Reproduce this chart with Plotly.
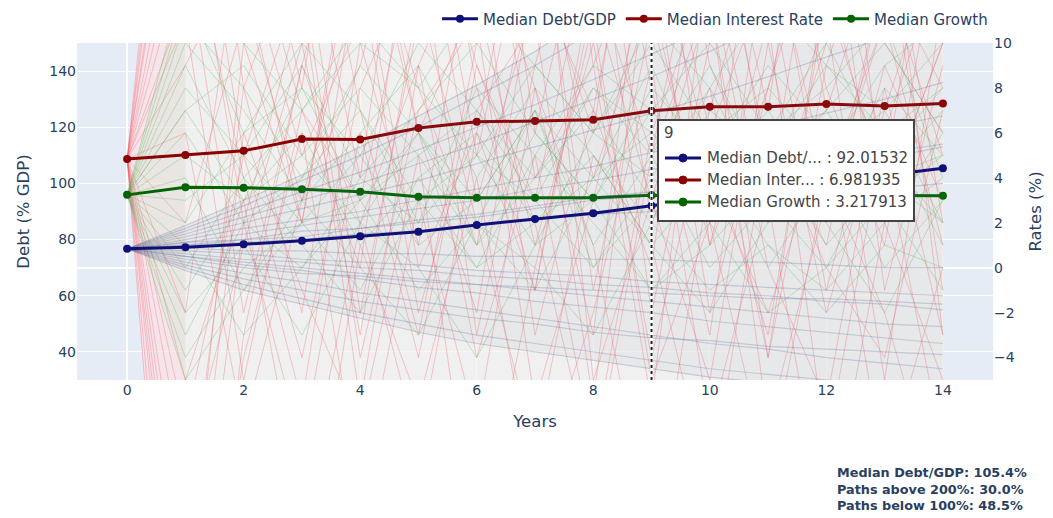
import plotly.graph_objects as go

# ---- data -------------------------------------------------------------
years = list(range(15))

median_debt = [76.7, 77.3, 78.3, 79.6, 81.2, 82.8, 85.2, 87.3, 89.4, 92.01532,
               95.0, 97.8, 100.3, 102.9, 105.4]
median_rate = [4.84, 5.02, 5.20, 5.73, 5.71, 6.22, 6.49, 6.53, 6.58, 6.981935,
               7.16, 7.16, 7.29, 7.20, 7.31]
median_growth = [3.24, 3.58, 3.56, 3.49, 3.38, 3.16, 3.11, 3.11, 3.11, 3.217913,
                 3.20, 3.22, 3.19, 3.21, 3.20]

# simulated debt/GDP paths (% of GDP)
debt_paths = [
    [76.7, 72, 68, 65, 61, 58, 55, 52, 49, 46, 43, 41, 38, 36, 34],
    [76.7, 74, 71, 69, 66, 63, 61, 58, 56, 54, 51, 49, 47, 45, 43],
    [76.7, 70, 64, 59, 54, 50, 46, 43, 40, 37, 34, 32, 30, 28, 26],
    [76.7, 75, 73, 72, 70, 69, 67, 66, 64, 63, 61, 60, 58, 57, 55],
    [76.7, 77, 76, 76, 75, 75, 74, 74, 73, 73, 72, 72, 71, 70, 70],
    [76.7, 78, 79, 80, 82, 83, 85, 87, 89, 90, 92, 94, 96, 98, 100],
    [76.7, 79, 82, 85, 88, 91, 94, 98, 101, 105, 108, 112, 116, 120, 124],
    [76.7, 81, 86, 91, 96, 101, 107, 113, 119, 125, 131, 138, 145, 152, 160],
    [76.7, 83, 90, 97, 104, 112, 120, 128, 137, 146, 156, 166, 177, 188, 200],
    [76.7, 85, 94, 103, 113, 124, 135, 147, 160, 173, 187, 202, 218, 235, 252],
    [76.7, 80, 84, 87, 90, 94, 98, 102, 106, 111, 115, 120, 125, 130, 136],
    [76.7, 73, 70, 68, 67, 65, 64, 63, 62, 61, 60, 59, 59, 58, 57],
    [76.7, 71, 66, 62, 58, 55, 52, 50, 47, 45, 44, 42, 41, 40, 39],
    [76.7, 79, 80, 83, 84, 87, 89, 92, 95, 97, 101, 104, 107, 111, 114],
    [76.7, 82, 88, 94, 100, 107, 114, 122, 130, 138, 147, 157, 167, 178, 189],
    [76.7, 76, 75, 73, 72, 71, 69, 68, 67, 65, 64, 63, 62, 61, 60],
    [76.7, 84, 92, 101, 110, 120, 131, 142, 154, 167, 181, 196, 212, 229, 247],
    [76.7, 74, 72, 70, 68, 66, 64, 62, 60, 58, 56, 54, 52, 50, 49],
    [76.7, 78, 80, 81, 84, 86, 88, 91, 94, 96, 99, 103, 106, 109, 113],
    [76.7, 69, 62, 57, 52, 47, 43, 40, 37, 34, 31, 29, 27, 25, 23],
]

# simulated interest-rate paths (%)
rate_paths = [
    [4.84, 18, 2, 12, -6, 9, 15, -3, 7, 20, 1, 11, -8, 6, 14],
    [4.84, -12, 8, -2, 14, 0, 6, 19, -5, 3, 12, -4, 9, 17, 2],
    [4.84, 25, 10, 16, 4, 22, 8, -1, 13, 5, 18, 7, 24, 3, 10],
    [4.84, -20, -4, 6, -10, 3, -7, 8, 1, -12, 4, -2, 6, -9, 0],
    [4.84, 9, 14, 5, 11, 17, 3, 12, 21, 8, -3, 15, 4, 11, 19],
    [4.84, -5, 3, -11, 2, 9, -4, 5, -8, 6, 13, 0, -6, 8, -3],
    [4.84, 14, -2, 9, 19, 6, 12, 1, 10, -4, 7, 16, 2, 13, 5],
    [4.84, 2, 11, 20, 7, -3, 10, 16, 4, 12, 1, 8, 18, -1, 9],
    [4.84, -28, -9, -15, 1, -6, 4, -10, -2, 9, -7, 3, -12, 2, -5],
    [4.84, 21, 5, -4, 8, 14, 24, 6, 17, -2, 10, 22, 7, 15, -1],
    [4.84, 6, -7, 3, 13, -2, 7, 11, -6, 15, 5, -3, 12, 4, 20],
    [4.84, -9, 1, 10, -3, 12, 2, -8, 5, 1, -10, 6, 0, -4, 7],
    [4.84, 12, 19, 8, 24, 11, 18, 27, 9, 16, 23, 10, 14, 21, 12],
    [4.84, -16, 6, -1, -7, 5, -13, 0, 11, -5, 2, -9, 4, -2, -11],
    [4.84, 30, 13, 2, 16, 8, 1, 14, 6, 23, 9, 3, 19, 10, 6],
    [4.84, -2, 16, 7, 0, 18, 9, 3, 15, 10, 17, 5, 1, 13, 8],
    [4.84, 27, 8, 15, -2, 11, 20, 4, 9, -6, 14, 2, 10, 18, -3],
    [4.84, -24, -3, 9, 2, -8, 6, -1, 12, 3, -5, 10, -2, 7, 15],
    [4.84, 16, 4, -6, 10, 1, 15, 8, -3, 18, 6, 13, -1, 9, 3],
    [4.84, -14, 10, 2, 17, 6, -2, 13, 7, 0, 19, 4, 11, -5, 12],
    [4.84, 22, 12, 3, 9, 19, 5, 17, -1, 11, 2, 20, 8, 1, 16],
    [4.84, -7, 5, 13, -4, 7, 11, -6, 3, 14, -2, 8, 16, 5, -8],
    [4.84, 11, -5, 7, 3, 15, -3, 9, 19, 2, 8, -4, 13, 3, 10],
    [4.84, -18, 2, -8, 6, -4, 9, 2, -9, 5, 12, -7, 3, 11, 1],
]

# simulated real growth paths (%)
growth_paths = [
    [3.24, 8, 5, 9, 4, 7, 10, 6, 3, 8, 5, 9, 6, 4, 7],
    [3.24, -2, 1, -3, 2, 0, -4, 1, 3, -1, 2, -2, 0, 3, -1],
    [3.24, 6, 2, 4, 7, 3, 5, 1, 6, 4, 8, 3, 5, 7, 2],
    [3.24, 0, 4, 1, -2, 3, 0, 5, 2, -1, 1, 4, 2, -2, 3],
    [3.24, 10, 7, 3, 6, 9, 4, 8, 5, 2, 7, 5, 9, 6, 8],
    [3.24, 4, -1, 2, 5, 1, 3, 7, 0, 4, 2, 6, 1, 4, 5],
    [3.24, -5, -1, 3, 0, -3, 2, -1, 4, 1, -2, 2, 5, 0, 3],
    [3.24, 7, 9, 5, 8, 5, 7, 3, 8, 6, 4, 7, 3, 8, 5],
    [3.24, 2, 6, 8, 3, 6, 1, 4, 7, 3, 5, 0, 4, 2, 6],
    [3.24, 12, 6, 10, 7, 2, 8, 5, 9, 7, 10, 6, 8, 11, 4],
    [3.24, 1, -3, 0, 3, -1, 2, 0, -3, 2, -1, 1, -2, 1, 0],
    [3.24, 5, 3, 6, 1, 4, 6, 2, 4, 6, 3, 5, 7, 3, 5],
    [3.24, -1, 3, 5, 2, 6, 3, 7, 1, 5, 0, 3, 4, 6, 1],
    [3.24, 9, 4, 7, 10, 8, 5, 9, 6, 10, 6, 8, 5, 9, 11],
    [3.24, 11, 8, 4, 9, 6, 2, 7, 4, 9, 3, 6, 10, 5, 8],
    [3.24, -3, 2, 0, 4, 2, 5, 3, 0, 3, 5, 1, -1, 2, 4],
    [3.24, 7, 3, 8, 5, 10, 7, 4, 8, 5, 9, 4, 7, 10, 6],
    [3.24, 3, 5, 2, 3, 5, 1, 6, 3, 7, 4, 2, 6, 4, 2],
    [3.24, -4, 0, 2, -1, 4, 0, 2, 5, 1, 4, 3, 0, 5, 2],
    [3.24, 13, 10, 7, 11, 8, 12, 9, 6, 11, 8, 12, 9, 7, 10],
]

# outer envelopes of the simulated fans
debt_low = [76.7, 69, 62, 57, 52, 47, 43, 40, 37, 34, 31, 29, 27, 25, 23]
debt_high = [76.7, 85, 94, 103, 113, 124, 135, 147, 160, 173, 187, 202, 218, 235, 252]
rate_low = [4.84] + [-28] * 14
rate_high = [4.84] + [30] * 14
growth_low = [3.24] + [-5] * 14
growth_high = [3.24] + [13] * 14

hover_year = 9
summary_lines = ["Median Debt/GDP: 105.4%", "Paths above 200%: 30.0%",
                 "Paths below 100%: 48.5%"]

DEBT_C = "#10107a"
RATE_C = "#8b0000"
GROWTH_C = "#006400"
FONT = "DejaVu Sans, Verdana, sans-serif"

fig = go.Figure()


def band(lo, hi, axis, color, upto=None):
    xs = years if upto is None else years[:upto + 1]
    lo = lo if upto is None else lo[:upto + 1]
    hi = hi if upto is None else hi[:upto + 1]
    fig.add_trace(go.Scatter(x=xs, y=lo, yaxis=axis, mode="lines", line=dict(width=0),
                             showlegend=False, hoverinfo="skip"))
    fig.add_trace(go.Scatter(x=xs, y=hi, yaxis=axis, mode="lines", line=dict(width=0),
                             fill="tonexty", fillcolor=color,
                             showlegend=False, hoverinfo="skip"))


# ---- rate & growth fans (right axis, drawn first) ----------------------
band(rate_low, rate_high, "y", "rgba(255,244,246,0.6)")
band(rate_low, rate_high, "y", "rgba(255,150,160,0.13)", upto=1)
band(growth_low, growth_high, "y", "rgba(215,242,215,0.2)")
band(growth_low, growth_high, "y", "rgba(150,215,150,0.06)", upto=1)
for p in rate_paths:
    fig.add_trace(go.Scatter(x=years, y=p, yaxis="y", mode="lines",
                             line=dict(color="rgba(238,85,95,0.3)", width=1),
                             showlegend=False, hoverinfo="skip"))
for p in growth_paths:
    fig.add_trace(go.Scatter(x=years, y=p, yaxis="y", mode="lines",
                             line=dict(color="rgba(60,165,60,0.26)", width=1),
                             showlegend=False, hoverinfo="skip"))
fig.add_trace(go.Scatter(x=years, y=median_rate, yaxis="y", mode="lines+markers",
                         name="Median Interest Rate", legendrank=2,
                         line=dict(color=RATE_C, width=3), marker=dict(size=8)))
fig.add_trace(go.Scatter(x=years, y=median_growth, yaxis="y", mode="lines+markers",
                         name="Median Growth", legendrank=3,
                         line=dict(color=GROWTH_C, width=3), marker=dict(size=8)))

# ---- debt fan (left axis) ---------------------------------------------
band(debt_low, debt_high, "y2", "rgba(125,132,172,0.07)")
for p in debt_paths:
    fig.add_trace(go.Scatter(x=years, y=p, yaxis="y2", mode="lines",
                             line=dict(color="rgba(70,80,130,0.22)", width=1.2),
                             showlegend=False, hoverinfo="skip"))
fig.add_trace(go.Scatter(x=years, y=median_debt, yaxis="y2", mode="lines+markers",
                         name="Median Debt/GDP", legendrank=1,
                         line=dict(color=DEBT_C, width=3), marker=dict(size=8)))

# ---- unified hover readout at the chosen year --------------------------
L, T, W, H = 77, 43, 916, 337


def px(v):
    return (v - L) / W


def py(v):
    return (T + H - v) / H


shapes = [
    dict(type="line", xref="x", yref="paper", x0=hover_year, x1=hover_year,
         y0=0, y1=1, layer="above", line=dict(color="white", width=3)),
    dict(type="line", xref="x", yref="paper", x0=hover_year, x1=hover_year,
         y0=0, y1=1, layer="above", line=dict(color="#222", width=2, dash="dot")),
    dict(type="rect", xref="paper", yref="paper", x0=px(658), x1=px(914),
         y0=py(221), y1=py(120), layer="above", fillcolor="white",
         line=dict(color="#444", width=2)),
]
annotations = [
    dict(text=str(hover_year), xref="paper", yref="paper", x=px(662), y=py(133),
         xanchor="left", yanchor="middle", showarrow=False,
         font=dict(family=FONT, size=15, color="#444")),
]
rows = [("Median Debt/... : %.7g" % median_debt[hover_year], DEBT_C, 158),
        ("Median Inter... : %.7g" % median_rate[hover_year], RATE_C, 180),
        ("Median Growth : %.7g" % median_growth[hover_year], GROWTH_C, 202)]
for label, col, yy in rows:
    shapes.append(dict(type="line", xref="paper", yref="paper", x0=px(665), x1=px(701),
                       y0=py(yy), y1=py(yy), layer="above",
                       line=dict(color=col, width=3)))
    shapes.append(dict(type="circle", xref="paper", yref="paper",
                       xsizemode="pixel", ysizemode="pixel",
                       xanchor=px(683), yanchor=py(yy), x0=-4, x1=4, y0=-4, y1=4,
                       layer="above", fillcolor=col, line=dict(color=col, width=1)))
    annotations.append(dict(text=label, xref="paper", yref="paper", x=px(705), y=py(yy),
                            xanchor="left", yanchor="middle", showarrow=False,
                            font=dict(family=FONT, size=15, color="#444")))

annotations.append(dict(text="<br>".join("<b>%s</b>" % s for s in summary_lines),
                        xref="paper", yref="paper", x=px(835), y=py(463),
                        xanchor="left", yanchor="top", align="left", showarrow=False,
                        font=dict(family=FONT, size=12.8, color="#2a3f5f")))

fig.update_layout(
    width=1053, height=518,
    margin=dict(l=L, r=60, t=T, b=138, autoexpand=False),
    font=dict(family=FONT, size=14, color="#2a3f5f"),
    hovermode="x unified",
    legend=dict(orientation="h", x=1, xanchor="right", y=py(19), yanchor="middle",
                traceorder="normal", itemwidth=36, font=dict(size=15)),
    xaxis=dict(title=dict(text="Years", font=dict(size=16.5), standoff=18),
               range=[-0.86, 14.86], dtick=2),
    yaxis=dict(title=dict(text="Rates (%)", font=dict(size=16.5)), range=[-5, 10],
               dtick=2, side="right", showgrid=False),
    yaxis2=dict(title=dict(text="Debt (% GDP)", font=dict(size=16.5)), range=[30, 150],
                dtick=20, overlaying="y", side="left", showgrid=True,
                gridcolor="white", zeroline=False),
    shapes=shapes,
    annotations=annotations,
)

fig.write_html("out.html")
